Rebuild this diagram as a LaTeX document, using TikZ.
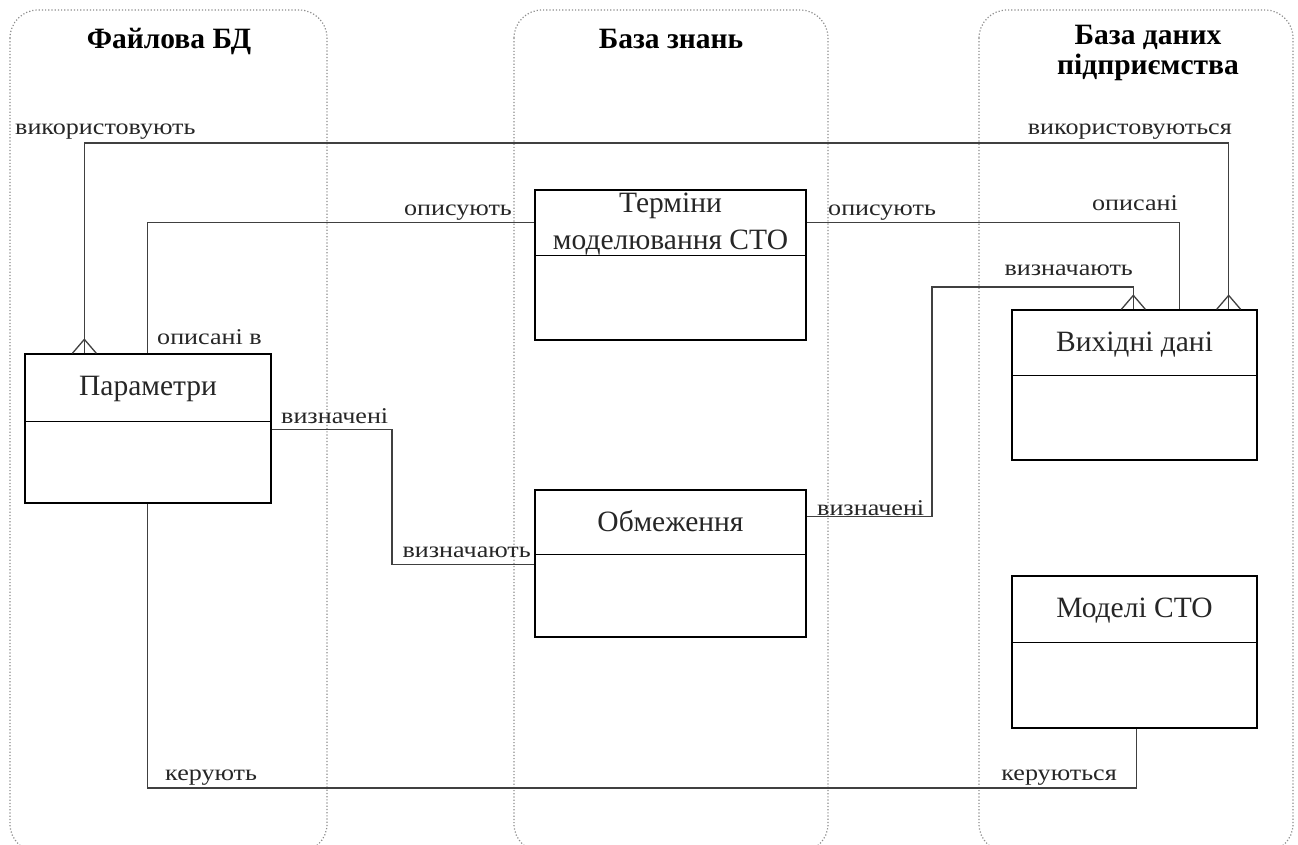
\documentclass[tikz,border=0pt]{standalone}
\usepackage{fontspec}
\setmainfont{Liberation Serif}
\newfontfamily\lblfont[FakeStretch=1.16]{Liberation Serif}
\usetikzlibrary{calc}
\begin{document}
\begin{tikzpicture}[x=1pt,y=-1pt,
  lane/.style={draw=black!45, line width=1.2pt, dotted, rounded corners=28pt},
  lanetitle/.style={font=\fontsize{29.5}{30}\selectfont\bfseries, align=center, inner sep=0pt},
  entity/.style={draw=black, line width=1.3pt, rectangle, inner sep=0pt},
  etitle/.style={font=\fontsize{29.5}{36}\selectfont, text=black!85, align=center, inner sep=0pt},
  rel/.style={draw=black!75, line width=1.3pt},
  lbl/.style={font=\lblfont\fontsize{22.5}{24}\selectfont, text=black!85, inner sep=0pt},
  crow/.pic={\draw[rel] (-12,0) -- (0,-14) -- (12,0);}
]
\useasboundingbox (0,0) rectangle (1298,845);
\clip (0,0) rectangle (1298,845);

% swimlanes
\draw[lane] (10,10) rectangle (327,852);
\draw[lane] (514,10) rectangle (828,852);
\draw[lane] (979,10) rectangle (1293,852);
\node[lanetitle, anchor=base] (t1) at (169,49) {Файлова БД};
\node[lanetitle, anchor=base] (t2) at (671,49) {База знань};
\node[lanetitle, anchor=base] (t3) at (1148,45) {База даних};
\node[lanetitle, anchor=base] (t4) at (1148,75) {підприємства};

% entities
\node[entity, minimum width=246pt, minimum height=149pt] (par) at (148,428.5) {};
\draw[entity] ($(par.north west)+(0,68)$) -- ($(par.north east)+(0,68)$);
\node[etitle, anchor=base] at ($(par.north)+(0,42)$) {Параметри};

\node[entity, minimum width=271pt, minimum height=150pt] (ter) at (670.5,265) {};
\draw[entity] ($(ter.north west)+(0,66)$) -- ($(ter.north east)+(0,66)$);
\node[etitle, anchor=base] at ($(ter.north)+(0,23)$) {Терміни};
\node[etitle, anchor=base] at ($(ter.north)+(0,60)$) {моделювання СТО};

\node[entity, minimum width=271pt, minimum height=147pt] (obm) at (670.5,563.5) {};
\draw[entity] ($(obm.north west)+(0,65)$) -- ($(obm.north east)+(0,65)$);
\node[etitle, anchor=base] at ($(obm.north)+(0,42)$) {Обмеження};

\node[entity, minimum width=245pt, minimum height=150pt] (vyh) at (1134.5,385) {};
\draw[entity] ($(vyh.north west)+(0,66)$) -- ($(vyh.north east)+(0,66)$);
\node[etitle, anchor=base] at ($(vyh.north)+(0,42)$) {Вихідні дані};

\node[entity, minimum width=245pt, minimum height=152pt] (mod) at (1134.5,652) {};
\draw[entity] ($(mod.north west)+(0,67)$) -- ($(mod.north east)+(0,67)$);
\node[etitle, anchor=base] at ($(mod.north)+(0,42)$) {Моделі СТО};

% attachment points
\coordinate (pA) at ($(par.north west)+(60,0)$);
\coordinate (pB) at ($(par.north west)+(123,0)$);
\coordinate (pC) at ($(par.north east)+(0,76)$);
\coordinate (pD) at ($(par.south west)+(123,0)$);
\coordinate (vA) at ($(vyh.north east)+(-29,0)$);
\coordinate (vB) at ($(vyh.north west)+(168,0)$);
\coordinate (vC) at ($(vyh.north west)+(122,0)$);
\coordinate (tL) at ($(ter.north west)+(0,33)$);
\coordinate (tR) at ($(ter.north east)+(0,33)$);
\coordinate (oL) at ($(obm.north west)+(0,75)$);
\coordinate (oR) at ($(obm.north east)+(0,27)$);
\coordinate (mB) at ($(mod.south west)+(125,0)$);
% routing levels
\coordinate (yUse) at (0,143);
\coordinate (xDef) at (932,287);
\coordinate (xPar) at (392,0);
\coordinate (yCtl) at (0,788);

% relationships
\draw[rel] (pA) -- (pA |- yUse) -| (vA);
\pic at (pA) {crow};
\pic at (vA) {crow};
\node[lbl, anchor=base west] (l1) at (15,135) {використовують};
\node[lbl, anchor=base east] (l2) at (1232,135) {використовуються};

\draw[rel] (pB) |- (tL);
\node[lbl, anchor=base west] (l3) at (157,344) {описані в};
\node[lbl, anchor=base east] (l4) at (512,215) {описують};

\draw[rel] (tR) -| (vB);
\node[lbl, anchor=base west] (l5) at (828,215) {описують};
\node[lbl, anchor=base east] (l6) at (1178,211) {описані};

\draw[rel] (oR) -| (xDef) -| (vC);
\pic at (vC) {crow};
\node[lbl, anchor=base west] (l7) at (817,515) {визначені};
\node[lbl, anchor=base east] (l8) at (1133,275) {визначають};

\draw[rel] (pC) -- (pC -| xPar) |- (oL);
\node[lbl, anchor=base west] (l9) at (281,423) {визначені};
\node[lbl, anchor=base east] (l10) at (531,557) {визначають};

\draw[rel] (pD) -- (pD |- yCtl) -| (mB);
\node[lbl, anchor=base west] (l11) at (165,780) {керують};
\node[lbl, anchor=base east] (l12) at (1117,780) {керуються};
\end{tikzpicture}
\end{document}
